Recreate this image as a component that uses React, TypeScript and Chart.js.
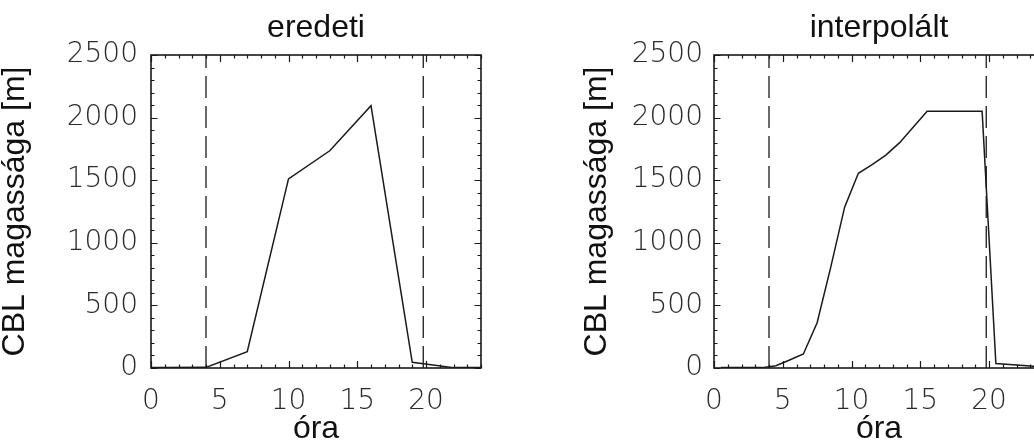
import React, { useEffect, useRef } from 'react';
import { Chart, registerables } from 'chart.js';

Chart.register(...registerables);

// ---- data ----
const eredetiHours = [0, 1, 4, 7, 10, 13, 16, 19, 22, 24];
const eredetiCbl = [3, 3, 5, 130, 1510, 1735, 2095, 45, 3, 3];

const interpHours = [0.5, 1.5, 2.5, 3.5, 4.5, 5.5, 6.5, 7.5, 8.5, 9.5, 10.5, 11.5, 12.5, 13.5, 14.5, 15.5, 16.5, 17.5, 18.5, 19.5, 20.5, 21.5, 22.5, 23.5];
const interpCbl = [3, 3, 3, 3, 18, 64, 112, 362, 810, 1285, 1555, 1625, 1700, 1800, 1925, 2050, 2050, 2050, 2050, 2050, 35, 28, 20, 12];

const dayBounds = [4.0, 19.8];

const xTickValues = [0, 5, 10, 15, 20];
const yTickValues = [0, 500, 1000, 1500, 2000, 2500];
const xRange = [0, 24];
const yRange = [0, 2500];
const xMinorStep = 1;
const yMinorStep = 100;

const panelTitles = ['eredeti', 'interpolált'];
const xTitle = 'óra';
const yTitle = 'CBL magassága [m]';

// ---- styling ----
const tickFont = { family: '"DejaVu Sans", sans-serif', size: 28, weight: '200' as any };
const titleFont = { family: '"Liberation Sans", Arial, sans-serif', size: 32, weight: 'normal' as any };
const yTitleFont = { family: '"Liberation Sans", Arial, sans-serif', size: 32, weight: 'normal' as any };
const ink = '#1a1a1a';

const idlTicksPlugin = {
  id: 'idlTicks',
  afterDatasetsDraw(chart: any) {
    const { ctx, chartArea: a, scales } = chart;
    const xs = scales.x;
    const ys = scales.y;
    ctx.save();
    ctx.strokeStyle = ink;
    ctx.lineWidth = 1.2;
    ctx.beginPath();
    for (let h = xRange[0]; h <= xRange[1] + 1e-9; h += xMinorStep) {
      const major = Math.abs(h % 5) < 1e-9;
      const len = major ? 7 : 3.5;
      const px = Math.round(xs.getPixelForValue(h)) + 0.5;
      ctx.moveTo(px, a.bottom);
      ctx.lineTo(px, a.bottom - len);
      ctx.moveTo(px, a.top);
      ctx.lineTo(px, a.top + len);
    }
    for (let v = yRange[0]; v <= yRange[1] + 1e-9; v += yMinorStep) {
      const major = Math.abs(v % 500) < 1e-9;
      const len = major ? 6.5 : 3.5;
      const py = Math.round(ys.getPixelForValue(v)) + 0.5;
      ctx.moveTo(a.left, py);
      ctx.lineTo(a.left + len, py);
      ctx.moveTo(a.right, py);
      ctx.lineTo(a.right - len, py);
    }
    ctx.stroke();
    ctx.lineWidth = 1.6;
    ctx.strokeRect(a.left, a.top, a.right - a.left, a.bottom - a.top);
    ctx.restore();
  },
};

type PanelProps = {
  hours: number[];
  values: number[];
  title: string;
  yAxisWidth: number;
  yTitlePad: number;
  yTickPad: number;
  width: number;
  left: number;
};

function Panel({ hours, values, title, yAxisWidth, yTitlePad, yTickPad, width, left }: PanelProps) {
  const ref = useRef<HTMLCanvasElement | null>(null);
  useEffect(() => {
    if (!ref.current) return;
    const lineData = hours.map((h, i) => ({ x: h, y: values[i] }));
    const dashSets = dayBounds.map((d) => ({
      data: [
        { x: d, y: yRange[0] },
        { x: d, y: yRange[1] },
      ],
      borderColor: ink,
      borderWidth: 1.3,
      borderDash: [22, 8],
      pointRadius: 0,
      fill: false,
    }));
    const chart = new Chart(ref.current, {
      type: 'line',
      data: {
        datasets: [
          {
            data: lineData,
            borderColor: ink,
            borderWidth: 1.5,
            pointRadius: 0,
            tension: 0,
            fill: false,
          },
          ...dashSets,
        ] as any,
      },
      options: {
        responsive: false,
        animation: false,
        events: [],
        layout: { padding: { left: 0, right: 36, top: 0, bottom: 0 } },
        plugins: { legend: { display: false }, tooltip: { enabled: false }, title: { display: false } },
        scales: {
          x: {
            type: 'linear',
            position: 'bottom',
            min: xRange[0],
            max: xRange[1],
            afterBuildTicks: (s: any) => {
              s.ticks = xTickValues.map((v) => ({ value: v }));
            },
            grid: { display: false, drawTicks: false },
            border: { display: false },
            ticks: {
              font: tickFont,
              color: '#2a2a2a',
              padding: 17.2,
              maxRotation: 0,
              autoSkip: false,
              callback: (v: any) => String(v),
            },
            title: { display: true, text: xTitle, font: titleFont, color: '#111', padding: { top: 0, bottom: -7.1 } },
            afterFit: (s: any) => {
              s.height = 73;
            },
          },
          xTop: {
            type: 'linear',
            position: 'top',
            min: xRange[0],
            max: xRange[1],
            grid: { display: false, drawTicks: false },
            border: { display: false },
            ticks: { display: false },
            title: { display: true, text: title, font: titleFont, color: '#111', padding: { top: 8.5, bottom: 0 } },
            afterFit: (s: any) => {
              s.height = 55;
            },
          },
          y: {
            type: 'linear',
            position: 'left',
            min: yRange[0],
            max: yRange[1],
            afterBuildTicks: (s: any) => {
              s.ticks = yTickValues.map((v) => ({ value: v }));
            },
            grid: { display: false, drawTicks: false },
            border: { display: false },
            ticks: {
              font: tickFont,
              color: '#2a2a2a',
              padding: yTickPad,
              autoSkip: false,
              callback: (v: any) => String(v),
            },
            title: { display: true, text: yTitle, font: yTitleFont, color: '#111', padding: { top: yTitlePad, bottom: 0 } },
            afterFit: (s: any) => {
              s.width = yAxisWidth;
            },
          },
        },
      } as any,
      plugins: [idlTicksPlugin],
    });
    return () => chart.destroy();
  }, []);
  return (
    <canvas
      ref={ref}
      width={width}
      height={441}
      style={{ position: 'absolute', left, top: 0, width, height: 441 }}
    />
  );
}

export default function App() {
  return (
    <div
      style={{
        position: 'fixed',
        left: 0,
        top: 0,
        width: 1034,
        height: 441,
        overflow: 'hidden',
        background: '#fff',
      }}
    >
      <Panel
        hours={eredetiHours}
        values={eredetiCbl}
        title={panelTitles[0]}
        yAxisWidth={151}
        yTitlePad={-4.5}
        yTickPad={13}
        width={517}
        left={0}
      />
      <Panel
        hours={interpHours}
        values={interpCbl}
        title={panelTitles[1]}
        yAxisWidth={154}
        yTitlePad={17.7}
        yTickPad={11}
        width={520}
        left={560}
      />
    </div>
  );
}
